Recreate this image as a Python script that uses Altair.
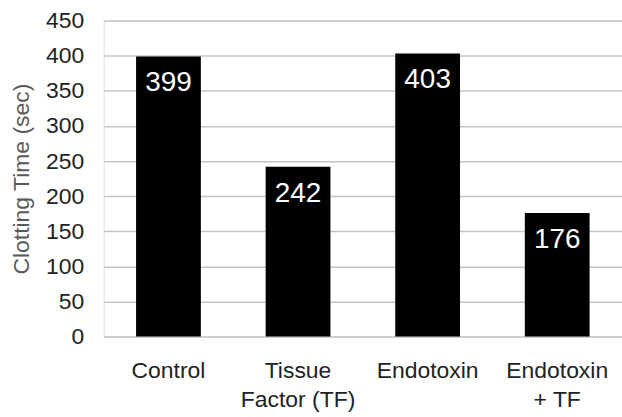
import altair as alt
import pandas as pd

categories = ["Control", "Tissue\nFactor (TF)", "Endotoxin", "Endotoxin\n+ TF"]
values = [399, 242, 403, 176]

df = pd.DataFrame({"cat": categories, "val": values})

FONT = "Liberation Sans"

base = alt.Chart(df).encode(
    x=alt.X("cat:N", sort=categories, title=None,
            scale=alt.Scale(paddingInner=0.5, paddingOuter=0.25),
            axis=alt.Axis(labelAngle=0, labelExpr="split(datum.label, '\\n')",
                          labelFont=FONT, labelFontSize=23, labelColor="#222222",
                          labelLineHeight=29, labelPadding=23, labelBaseline="top",
                          ticks=False, domain=False, grid=False)),
    y=alt.Y("val:Q", title="Clotting Time (sec)",
            scale=alt.Scale(domain=[0, 450], nice=False),
            axis=alt.Axis(values=list(range(0, 451, 50)), labelFont=FONT, labelFontSize=23,
                          labelColor="#222222", labelPadding=20, ticks=False,
                          domain=False, gridColor="#c4c4c4", gridWidth=1.5,
                          titleFont=FONT, titleFontSize=23, titleFontWeight="normal",
                          titleColor="#595959", titlePadding=12)),
)

bars = base.mark_bar(color="#000000")
labels = base.mark_text(color="#ffffff", font=FONT, fontSize=28, baseline="middle", dy=27).encode(
    text=alt.Text("val:Q"))

chart = (bars + labels).properties(
    width=520, height=317,
    autosize=alt.AutoSizeParams(type="none"),
    padding={"left": 104, "top": 20, "right": 0, "bottom": 80},
).configure_view(stroke="#555555", strokeWidth=1.5).configure(background="#ffffff")

chart.save("out.html", embed_options={"renderer": "svg", "actions": False})
